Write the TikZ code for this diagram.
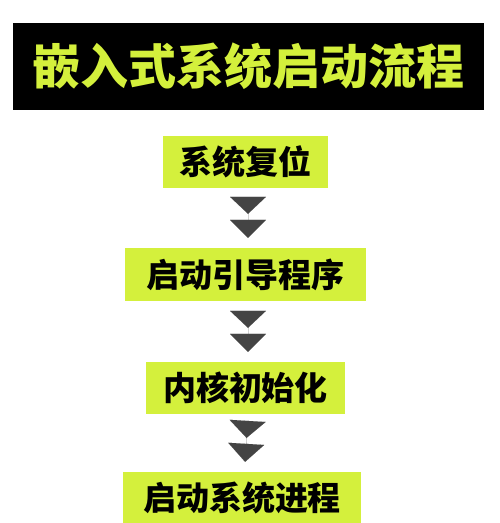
\documentclass[tikz,border=0pt]{standalone}
\usepackage{fontspec}
\newfontfamily\cjk{Noto Sans CJK SC}[BoldFont={Noto Sans CJK SC Black}]
\usetikzlibrary{arrows.meta}
\definecolor{lime}{HTML}{D4F03C}
\definecolor{chevgray}{HTML}{444444}
\tikzset{
	stepbox/.style={fill=lime, minimum height=52pt, inner sep=0pt, text=black, font=\cjk\bfseries\fontsize{33}{33}\selectfont},
	chev/.style={draw=chevgray, fill=chevgray, line width=0.01pt, shorten <=10pt, shorten >=10pt, -{Triangle[width=36pt,length=17pt,sep=6pt]Triangle[width=36pt,length=18pt]}}
}
\begin{document}
\begin{tikzpicture}[x=1pt,y=-1pt]
	\fill[white] (0,0) rectangle (500,523);
	\useasboundingbox (0,0) rectangle (500,523);
	\node[fill=black, minimum width=471pt, minimum height=87pt, inner sep=0pt, text=lime, font=\cjk\bfseries\fontsize{48}{48}\selectfont] (title) at (248.5,66.5) {嵌入式系统启动流程};
	\node[stepbox, minimum width=165pt] (reset) at (245.5,161.5) {系统复位};
	\node[stepbox, minimum width=241pt, minimum height=53pt] (boot) at (245.5,274.5) {启动引导程序};
	\node[stepbox, minimum width=199pt] (kernel) at (245.5,388) {内核初始化};
	\node[stepbox, minimum width=238pt] (proc) at (242,498) {启动系统进程};
	\foreach \a/\b in {reset/boot,boot/kernel,kernel/proc}
	\draw[chev] ([xshift=2.5pt]\a.south) -- ([xshift=2.5pt]\b.north);
\end{tikzpicture}
\end{document}
